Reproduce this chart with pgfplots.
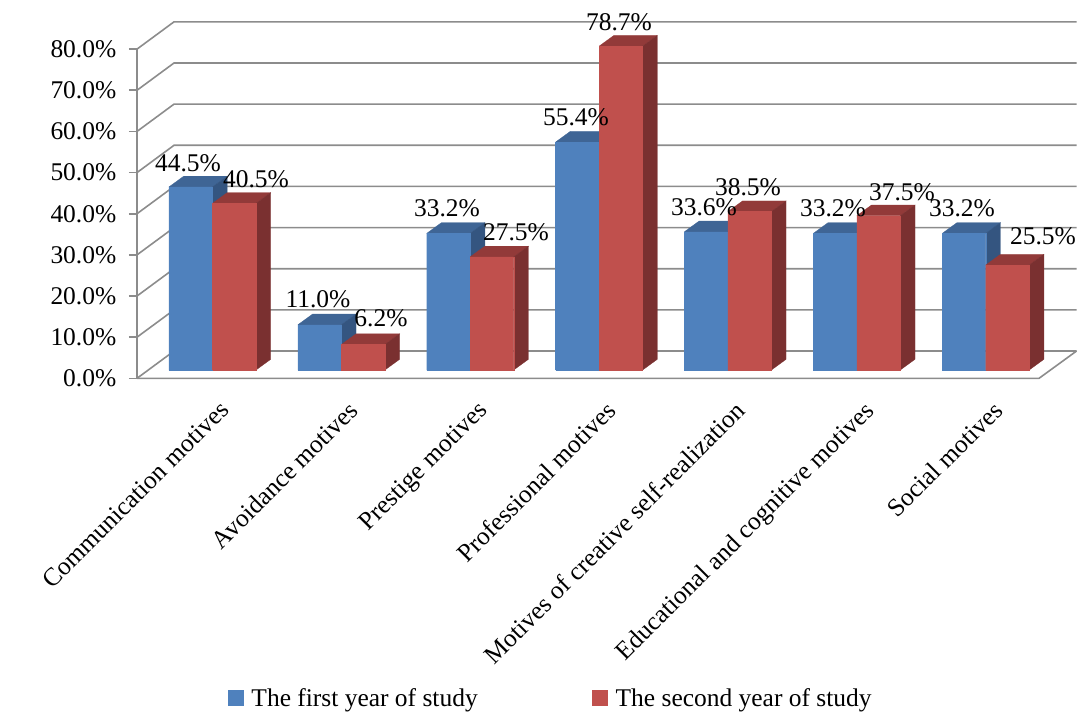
\documentclass[border=0pt]{standalone}
\usepackage{pgfplots}
\usepackage{fontspec}
\setmainfont{Liberation Serif}
\pgfplotsset{compat=1.18}

\definecolor{blueFront}{HTML}{4F81BD}
\definecolor{blueTop}{HTML}{3F6595}
\definecolor{blueSide}{HTML}{345580}
\definecolor{redFront}{HTML}{C0504D}
\definecolor{redTop}{HTML}{923A39}
\definecolor{redSide}{HTML}{7A3030}
\definecolor{wallGrid}{HTML}{8C8C8C}

\newcommand{\chartfont}{\fontsize{19.1}{23}\selectfont}

% Oblique box for one bar: left edge on the x axis, value, then colour stem.
\newcommand{\obliquebar}[3]{%
  \pgfmathsetmacro{\xa}{#1}%
  \pgfmathsetmacro{\xb}{#1+43.5}%
  \pgfmathsetmacro{\xc}{#1+43.5+14.7}%
  \pgfmathsetmacro{\xd}{#1+14.7}%
  \pgfmathsetmacro{\ya}{2.02}%
  \pgfmathsetmacro{\yb}{2.02+#2}%
  \pgfmathsetmacro{\yc}{2.02+#2+2.6}%
  \pgfmathsetmacro{\yd}{2.02+2.6}%
  \addplot[fill=#3Top,draw=#3Top,line width=0.2pt,forget plot]
    coordinates {(\xa,\yb) (\xb,\yb) (\xc,\yc) (\xd,\yc) (\xa,\yb)};
  \addplot[fill=#3Side,draw=#3Side,line width=0.2pt,forget plot]
    coordinates {(\xb,\ya) (\xc,\yd) (\xc,\yc) (\xb,\yb) (\xb,\ya)};
  \addplot[fill=#3Front,draw=#3Front,line width=0.2pt,forget plot]
    coordinates {(\xa,\ya) (\xb,\ya) (\xb,\yb) (\xa,\yb) (\xa,\ya)};
}

% One grid level: along the side wall, then across the back wall.
\newcommand{\gridlevel}[1]{%
  \pgfmathsetmacro{\yback}{#1+6.63}%
  \addplot[wallGrid,line width=1.2pt,forget plot]
    coordinates {(137,#1) (174,\yback) (1076.5,\yback)};
}

\begin{document}
\begin{tikzpicture}
\useasboundingbox (0,0) rectangle (811.5pt,534.75pt);
\begin{axis}[
  at={(102.75pt,251.0pt)}, anchor=south west,
  x=0.75pt, y=3.08625pt,
  xmin=137, xmax=1077, ymin=0, ymax=87,
  clip=false,
  axis x line*=bottom, axis y line*=left,
  axis line style={draw=none},
  tick align=outside,
  major tick length=6pt,
  ytick={0,10,...,80},
  ytick style={draw=wallGrid,line width=1.2pt},
  yticklabel={\pgfmathprintnumber[fixed,fixed zerofill,precision=1,assume math mode=true]{\tick}\%},
  yticklabel style={font=\chartfont,xshift=-6pt},
  xtick={201.4,330.3,459.2,588,716.9,845.7,974.6},
  xticklabels={Communication motives,Avoidance motives,Prestige motives,Professional motives,Motives of creative self-realization,Educational and cognitive motives,Social motives},
  xticklabel style={font=\chartfont,rotate=45,anchor=north east,inner sep=0pt,yshift=-16pt,xshift=2pt},
  x tick style={draw=none},
  extra x ticks={137,265.9,394.7,523.6,652.4,781.3,910.2,1039},
  extra x tick labels={},
  extra x tick style={tick style={draw=wallGrid,line width=1.2pt}},
  legend style={at={(axis cs:228,-77.7)},anchor=west,draw=none,fill=none,inner sep=0pt,
    font=\chartfont,legend columns=2,
    /tikz/every odd column/.append style={column sep=4pt},
    /tikz/every even column/.append style={column sep=84pt}},
  legend image code/.code={\fill[#1] (0pt,-5.6pt) rectangle (11pt,5.6pt);},
]
\addlegendimage{blueFront}
\addlegendentry{The first year of study}
\addlegendimage{redFront}
\addlegendentry{The second year of study}

\gridlevel{0}\gridlevel{10}\gridlevel{20}\gridlevel{30}\gridlevel{40}
\gridlevel{50}\gridlevel{60}\gridlevel{70}\gridlevel{80}
% floor front edge, its right return, and the vertical axis line
\addplot[wallGrid,line width=1.2pt,forget plot] coordinates {(137,0) (1039,0) (1076.5,6.63)};
\addplot[wallGrid,line width=1.2pt,forget plot] coordinates {(137,0) (137,80)};

\obliquebar{169}{44.5}{blue}\obliquebar{212.5}{40.5}{red}
\obliquebar{297.9}{11.0}{blue}\obliquebar{341.4}{6.2}{red}
\obliquebar{426.7}{33.2}{blue}\obliquebar{470.2}{27.5}{red}
\obliquebar{555.6}{55.4}{blue}\obliquebar{599.1}{78.7}{red}
\obliquebar{684.4}{33.6}{blue}\obliquebar{727.9}{38.5}{red}
\obliquebar{813.3}{33.2}{blue}\obliquebar{856.8}{37.5}{red}
\obliquebar{942.2}{33.2}{blue}\obliquebar{985.7}{25.5}{red}

% value labels: position of the text, then the value it states
\addplot[draw=none,forget plot,point meta=explicit,
  nodes near coords={\pgfmathprintnumber[fixed,fixed zerofill,precision=1,assume math mode=true]{\pgfplotspointmeta}\%},
  nodes near coords style={font=\chartfont,anchor=center,inner sep=0pt,black}]
  table[x=x,y=y,meta=v] {
  x y v
  188 52.3 44.5
  256 48.4 40.5
  318 19.3 11.0
  381 14.7 6.2
  447 41.4 33.2
  516 35.6 27.5
  576 63.5 55.4
  619 86.6 78.7
  704 41.6 33.6
  748 46.5 38.5
  833 41.4 33.2
  902 45.3 37.5
  962 41.4 33.2
  1043 34.6 25.5
};
\end{axis}
\end{tikzpicture}
\end{document}
